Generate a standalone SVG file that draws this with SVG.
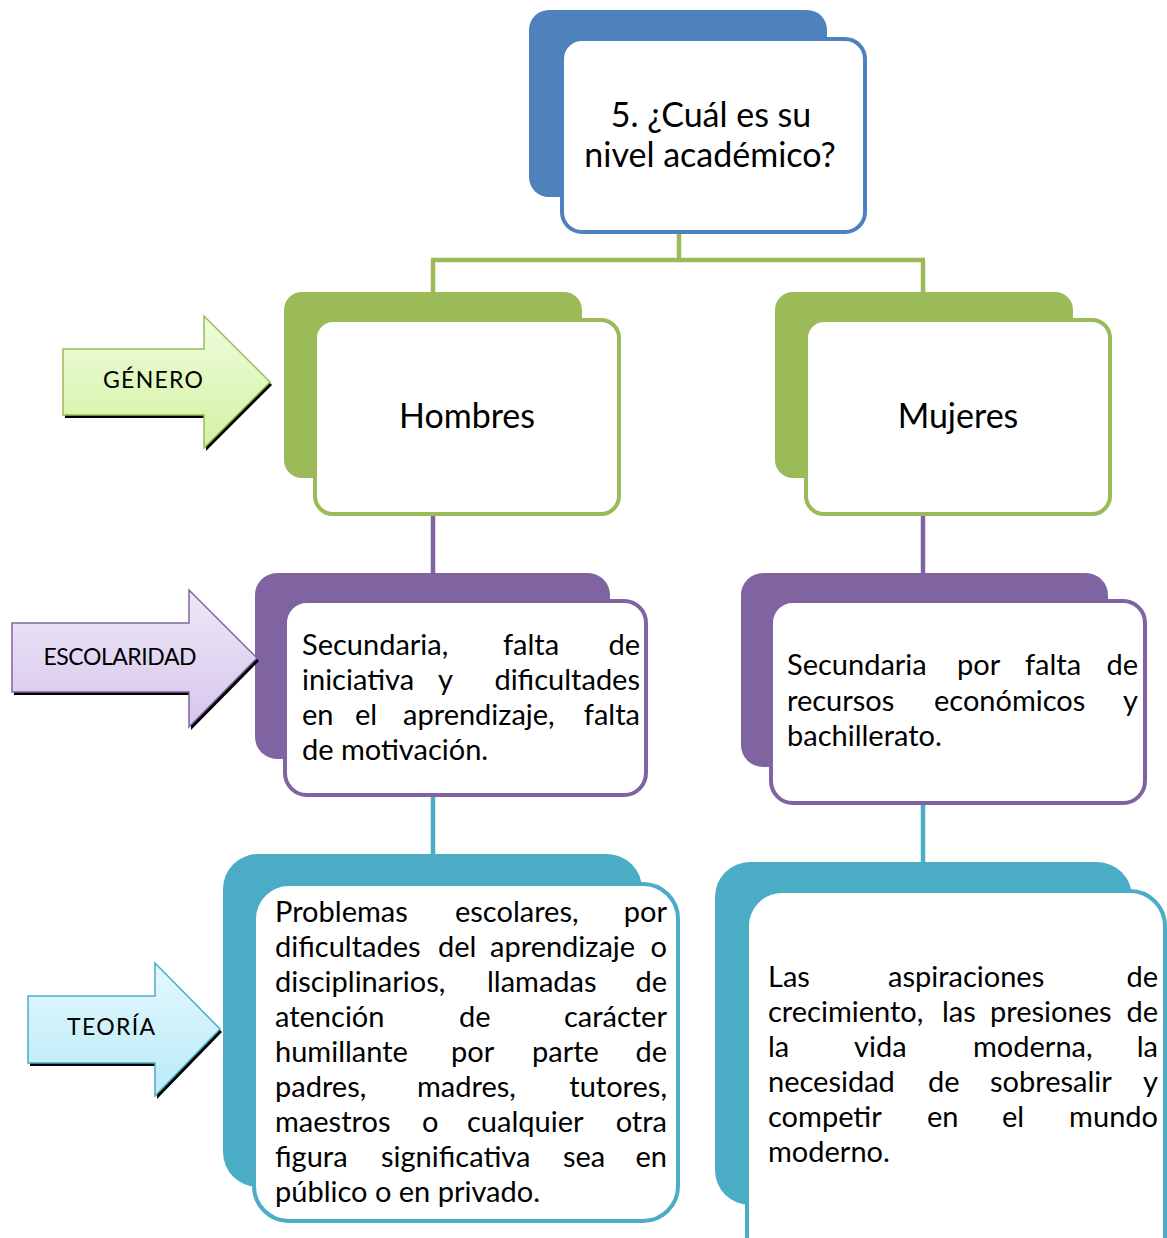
<svg xmlns="http://www.w3.org/2000/svg" width="1167" height="1238" viewBox="0 0 1167 1238">
  <style>
    .t { font-family: Lato, "Liberation Sans", sans-serif; fill: #000; }
    .big { font-size: 34px; }
    .body { font-size: 29px; }
    .lab { font-size: 23px; }
    .mid { text-anchor: middle; }
    .end { text-anchor: end; }
    .back-blue { fill: #4F81BD; }
    .front-blue { fill: #fff; stroke: #4F81BD; stroke-width: 4; }
    .back-green { fill: #9BBB59; }
    .front-green { fill: #fff; stroke: #9BBB59; stroke-width: 4; }
    .back-purple { fill: #8064A2; }
    .front-purple { fill: #fff; stroke: #8064A2; stroke-width: 4; }
    .back-teal { fill: #4BACC6; }
    .front-teal { fill: #fff; stroke: #4BACC6; stroke-width: 4; }
    .shadow { fill: #000; }
  </style>
  <defs>
    <linearGradient id="gGreen" x1="0" y1="0" x2="0" y2="1">
      <stop offset="0" stop-color="#EEFCDC"/>
      <stop offset="1" stop-color="#D3F3A2"/>
    </linearGradient>
    <linearGradient id="gPurple" x1="0" y1="0" x2="0" y2="1">
      <stop offset="0" stop-color="#EEE8F7"/>
      <stop offset="1" stop-color="#D6C6EC"/>
    </linearGradient>
    <linearGradient id="gTeal" x1="0" y1="0" x2="0" y2="1">
      <stop offset="0" stop-color="#E4F8FD"/>
      <stop offset="1" stop-color="#B9EAF8"/>
    </linearGradient>
  </defs>

  <!-- connectors -->
  <g id="connectors" fill="none">
    <path d="M679 232 V260 M431 260 H925 M433 260 V295 M923 260 V295" stroke="#9BBB59" stroke-width="4.5"/>
    <path d="M433 514 V576 M923 514 V576" stroke="#8064A2" stroke-width="4.5"/>
    <path d="M433 795 V857 M923 803 V865" stroke="#4BACC6" stroke-width="4.5"/>
  </g>

  <!-- question -->
  <g id="node-pregunta">
    <rect class="back-blue" x="529" y="10" width="298" height="187" rx="20"/>
    <rect class="front-blue" x="562" y="39" width="303" height="193" rx="20"/>
    <text class="t big mid" x="711" y="127">5. ¿Cuál es su</text>
    <text class="t big mid" x="710" y="167">nivel académico?</text>
  </g>

  <!-- gender -->
  <g id="node-hombres">
    <rect class="back-green" x="284" y="292" width="298" height="186" rx="18"/>
    <rect class="front-green" x="315" y="320" width="304" height="194" rx="18"/>
    <text class="t big mid" x="467" y="428">Hombres</text>
  </g>
  <g id="node-mujeres">
    <rect class="back-green" x="775" y="292" width="298" height="186" rx="18"/>
    <rect class="front-green" x="806" y="320" width="304" height="194" rx="18"/>
    <text class="t big mid" x="958" y="428">Mujeres</text>
  </g>

  <!-- schooling -->
  <g id="node-escolaridad-hombres">
    <rect class="back-purple" x="255" y="573" width="355" height="186" rx="22"/>
    <rect class="front-purple" x="285" y="601" width="361" height="194" rx="22"/>
    <text class="t body" y="655"><tspan x="302">Secundaria,</tspan><tspan x="503">falta</tspan></text>
    <text class="t body end" x="640" y="655">de</text>
    <text class="t body" y="690"><tspan x="302">iniciativa</tspan><tspan x="438">y</tspan></text>
    <text class="t body end" x="640" y="690">dificultades</text>
    <text class="t body" y="725"><tspan x="302">en</tspan><tspan x="355">el</tspan><tspan x="403">aprendizaje,</tspan></text>
    <text class="t body end" x="640" y="725">falta</text>
    <text class="t body" x="302" y="760">de motivación.</text>
  </g>
  <g id="node-escolaridad-mujeres">
    <rect class="back-purple" x="741" y="573" width="367" height="194" rx="22"/>
    <rect class="front-purple" x="771" y="601" width="374" height="202" rx="22"/>
    <text class="t body" y="675"><tspan x="787">Secundaria</tspan><tspan x="957">por</tspan><tspan x="1025">falta</tspan></text>
    <text class="t body end" x="1138" y="675">de</text>
    <text class="t body" y="711"><tspan x="787">recursos</tspan><tspan x="934">económicos</tspan></text>
    <text class="t body end" x="1138" y="711">y</text>
    <text class="t body" x="787" y="746">bachillerato.</text>
  </g>

  <!-- theory -->
  <g id="node-teoria-hombres">
    <rect class="back-teal" x="223" y="854" width="419" height="333" rx="35"/>
    <rect class="front-teal" x="254" y="884" width="424" height="337" rx="35"/>
    <text class="t body" y="922"><tspan x="275">Problemas</tspan><tspan x="455">escolares,</tspan></text>
    <text class="t body end" x="667" y="922">por</text>
    <text class="t body" y="957"><tspan x="275">dificultades</tspan><tspan x="438">del</tspan><tspan x="490">aprendizaje</tspan></text>
    <text class="t body end" x="667" y="957">o</text>
    <text class="t body" y="992"><tspan x="275">disciplinarios,</tspan><tspan x="487">llamadas</tspan></text>
    <text class="t body end" x="667" y="992">de</text>
    <text class="t body" y="1027"><tspan x="275">atención</tspan><tspan x="459">de</tspan></text>
    <text class="t body end" x="667" y="1027">carácter</text>
    <text class="t body" y="1062"><tspan x="275">humillante</tspan><tspan x="451">por</tspan><tspan x="532">parte</tspan></text>
    <text class="t body end" x="667" y="1062">de</text>
    <text class="t body" y="1097"><tspan x="275">padres,</tspan><tspan x="417">madres,</tspan></text>
    <text class="t body end" x="667" y="1097">tutores,</text>
    <text class="t body" y="1132"><tspan x="275">maestros</tspan><tspan x="422">o</tspan><tspan x="467">cualquier</tspan></text>
    <text class="t body end" x="667" y="1132">otra</text>
    <text class="t body" y="1167"><tspan x="275">figura</tspan><tspan x="381">significativa</tspan><tspan x="563">sea</tspan></text>
    <text class="t body end" x="667" y="1167">en</text>
    <text class="t body" x="275" y="1202">público o en privado.</text>
  </g>
  <g id="node-teoria-mujeres">
    <rect class="back-teal" x="715" y="862" width="417" height="343" rx="35"/>
    <rect class="front-teal" x="747" y="891" width="418" height="380" rx="35"/>
    <text class="t body" y="987"><tspan x="768">Las</tspan><tspan x="888">aspiraciones</tspan></text>
    <text class="t body end" x="1158" y="987">de</text>
    <text class="t body" y="1022"><tspan x="768">crecimiento,</tspan><tspan x="942">las</tspan><tspan x="990">presiones</tspan></text>
    <text class="t body end" x="1158" y="1022">de</text>
    <text class="t body" y="1057"><tspan x="768">la</tspan><tspan x="854">vida</tspan><tspan x="973">moderna,</tspan></text>
    <text class="t body end" x="1158" y="1057">la</text>
    <text class="t body" y="1092"><tspan x="768">necesidad</tspan><tspan x="928">de</tspan><tspan x="990">sobresalir</tspan></text>
    <text class="t body end" x="1158" y="1092">y</text>
    <text class="t body" y="1127"><tspan x="768">competir</tspan><tspan x="927">en</tspan><tspan x="1002">el</tspan></text>
    <text class="t body end" x="1158" y="1127">mundo</text>
    <text class="t body" x="768" y="1162">moderno.</text>
  </g>

  <!-- side labels -->
  <g id="arrow-genero">
    <polygon class="shadow" points="65,352 206,352 206,319 272,385 206,451 206,418 65,418"/>
    <polygon points="63,349 204,349 204,316 270,382 204,448 204,415 63,415" fill="url(#gGreen)" stroke="#9BBB59" stroke-width="1.5"/>
    <text class="t lab mid" x="153" y="388" textLength="100">GÉNERO</text>
  </g>
  <g id="arrow-escolaridad">
    <polygon class="shadow" points="14,626 191,626 191,593 259,661 191,730 191,695 14,695"/>
    <polygon points="12,623 189,623 189,590 257,658 189,727 189,692 12,692" fill="url(#gPurple)" stroke="#8064A2" stroke-width="1.5"/>
    <text class="t lab mid" x="120" y="665" textLength="153">ESCOLARIDAD</text>
  </g>
  <g id="arrow-teoria">
    <polygon class="shadow" points="30,999 157,999 157,966 222,1032 157,1099 157,1066 30,1066"/>
    <polygon points="28,996 155,996 155,963 220,1029 155,1096 155,1063 28,1063" fill="url(#gTeal)" stroke="#4BACC6" stroke-width="1.5"/>
    <text class="t lab mid" x="111" y="1035" textLength="88">TEORÍA</text>
  </g>
</svg>
